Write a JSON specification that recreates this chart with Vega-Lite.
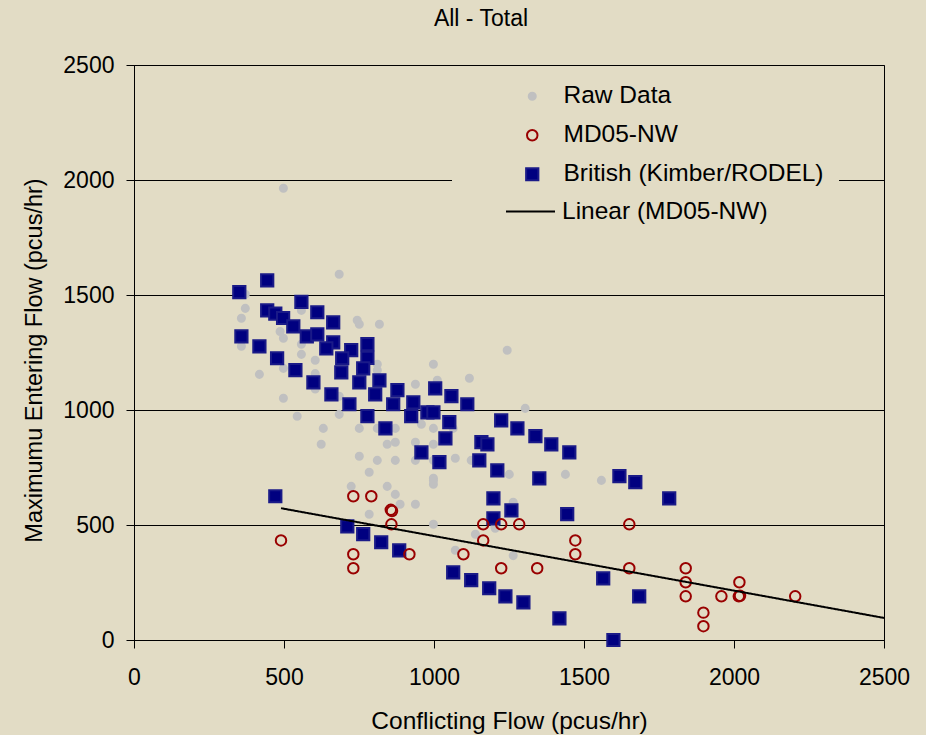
{
  "$schema": "https://vega.github.io/schema/vega-lite/v6.json",
  "width": 750,
  "height": 575,
  "autosize": {"type": "none"},
  "padding": {"left": 134, "top": 65, "right": 42, "bottom": 95},
  "background": "#E2DCC5",
  "title": {"text": "All - Total", "anchor": "middle", "dx": -28, "offset": 23, "fontSize": 23, "fontWeight": "normal", "font": "Liberation Sans", "color": "#000000"},
  "config": {
    "font": "Liberation Sans",
    "view": {"stroke": "#000000", "strokeWidth": 1},
    "axis": {"domainColor": "#000000", "tickColor": "#000000", "labelColor": "#000000", "titleColor": "#000000", "labelFont": "Liberation Sans", "titleFont": "Liberation Sans", "labelFontSize": 23, "titleFontSize": 24.5, "titleFontWeight": "normal", "tickSize": 8, "domainWidth": 1, "tickWidth": 1, "format": "d"}
  },
  "datasets": {
    "pts": [
      {"series": "Raw Data", "x": 498, "y": 1964},
      {"series": "Raw Data", "x": 684, "y": 1590},
      {"series": "Raw Data", "x": 371, "y": 1503},
      {"series": "Raw Data", "x": 371, "y": 1442},
      {"series": "Raw Data", "x": 358, "y": 1399},
      {"series": "Raw Data", "x": 358, "y": 1277},
      {"series": "Raw Data", "x": 487, "y": 1341},
      {"series": "Raw Data", "x": 498, "y": 1312},
      {"series": "Raw Data", "x": 418, "y": 1155},
      {"series": "Raw Data", "x": 498, "y": 1181},
      {"series": "Raw Data", "x": 498, "y": 1051},
      {"series": "Raw Data", "x": 544, "y": 973},
      {"series": "Raw Data", "x": 558, "y": 1286},
      {"series": "Raw Data", "x": 558, "y": 1242},
      {"series": "Raw Data", "x": 604, "y": 1216},
      {"series": "Raw Data", "x": 604, "y": 1158},
      {"series": "Raw Data", "x": 604, "y": 1091},
      {"series": "Raw Data", "x": 558, "y": 1433},
      {"series": "Raw Data", "x": 744, "y": 1390},
      {"series": "Raw Data", "x": 751, "y": 1373},
      {"series": "Raw Data", "x": 818, "y": 1373},
      {"series": "Raw Data", "x": 811, "y": 1199},
      {"series": "Raw Data", "x": 811, "y": 1173},
      {"series": "Raw Data", "x": 998, "y": 1199},
      {"series": "Raw Data", "x": 938, "y": 1112},
      {"series": "Raw Data", "x": 1011, "y": 1129},
      {"series": "Raw Data", "x": 684, "y": 1060},
      {"series": "Raw Data", "x": 684, "y": 981},
      {"series": "Raw Data", "x": 631, "y": 920},
      {"series": "Raw Data", "x": 624, "y": 851},
      {"series": "Raw Data", "x": 751, "y": 920},
      {"series": "Raw Data", "x": 811, "y": 920},
      {"series": "Raw Data", "x": 871, "y": 920},
      {"series": "Raw Data", "x": 844, "y": 851},
      {"series": "Raw Data", "x": 871, "y": 860},
      {"series": "Raw Data", "x": 958, "y": 938},
      {"series": "Raw Data", "x": 998, "y": 920},
      {"series": "Raw Data", "x": 938, "y": 860},
      {"series": "Raw Data", "x": 998, "y": 851},
      {"series": "Raw Data", "x": 1244, "y": 1260},
      {"series": "Raw Data", "x": 1118, "y": 1138},
      {"series": "Raw Data", "x": 751, "y": 799},
      {"series": "Raw Data", "x": 811, "y": 781},
      {"series": "Raw Data", "x": 871, "y": 781},
      {"series": "Raw Data", "x": 938, "y": 781},
      {"series": "Raw Data", "x": 784, "y": 729},
      {"series": "Raw Data", "x": 1071, "y": 790},
      {"series": "Raw Data", "x": 1124, "y": 781},
      {"series": "Raw Data", "x": 1251, "y": 720},
      {"series": "Raw Data", "x": 998, "y": 703},
      {"series": "Raw Data", "x": 1304, "y": 1007},
      {"series": "Raw Data", "x": 1064, "y": 920},
      {"series": "Raw Data", "x": 998, "y": 781},
      {"series": "Raw Data", "x": 998, "y": 694},
      {"series": "Raw Data", "x": 998, "y": 677},
      {"series": "Raw Data", "x": 1438, "y": 720},
      {"series": "Raw Data", "x": 1558, "y": 694},
      {"series": "Raw Data", "x": 887, "y": 590},
      {"series": "Raw Data", "x": 938, "y": 590},
      {"series": "Raw Data", "x": 998, "y": 503},
      {"series": "Raw Data", "x": 1264, "y": 599},
      {"series": "Raw Data", "x": 1138, "y": 460},
      {"series": "Raw Data", "x": 1071, "y": 390},
      {"series": "Raw Data", "x": 1264, "y": 367},
      {"series": "Raw Data", "x": 1203, "y": 493},
      {"series": "Raw Data", "x": 724, "y": 668},
      {"series": "Raw Data", "x": 844, "y": 668},
      {"series": "Raw Data", "x": 871, "y": 633},
      {"series": "Raw Data", "x": 784, "y": 547},
      {"series": "Raw Data", "x": 1264, "y": 590},
      {"series": "Raw Data", "x": 1204, "y": 486},
      {"series": "British (Kimber/RODEL)", "x": 351, "y": 1512},
      {"series": "British (Kimber/RODEL)", "x": 444, "y": 1564},
      {"series": "British (Kimber/RODEL)", "x": 444, "y": 1433},
      {"series": "British (Kimber/RODEL)", "x": 471, "y": 1419},
      {"series": "British (Kimber/RODEL)", "x": 497, "y": 1400},
      {"series": "British (Kimber/RODEL)", "x": 531, "y": 1364},
      {"series": "British (Kimber/RODEL)", "x": 558, "y": 1470},
      {"series": "British (Kimber/RODEL)", "x": 358, "y": 1320},
      {"series": "British (Kimber/RODEL)", "x": 418, "y": 1277},
      {"series": "British (Kimber/RODEL)", "x": 477, "y": 1225},
      {"series": "British (Kimber/RODEL)", "x": 538, "y": 1173},
      {"series": "British (Kimber/RODEL)", "x": 576, "y": 1320},
      {"series": "British (Kimber/RODEL)", "x": 611, "y": 1329},
      {"series": "British (Kimber/RODEL)", "x": 611, "y": 1425},
      {"series": "British (Kimber/RODEL)", "x": 664, "y": 1381},
      {"series": "British (Kimber/RODEL)", "x": 664, "y": 1294},
      {"series": "British (Kimber/RODEL)", "x": 641, "y": 1268},
      {"series": "British (Kimber/RODEL)", "x": 724, "y": 1260},
      {"series": "British (Kimber/RODEL)", "x": 778, "y": 1286},
      {"series": "British (Kimber/RODEL)", "x": 778, "y": 1227},
      {"series": "British (Kimber/RODEL)", "x": 694, "y": 1225},
      {"series": "British (Kimber/RODEL)", "x": 691, "y": 1164},
      {"series": "British (Kimber/RODEL)", "x": 764, "y": 1181},
      {"series": "British (Kimber/RODEL)", "x": 598, "y": 1120},
      {"series": "British (Kimber/RODEL)", "x": 751, "y": 1120},
      {"series": "British (Kimber/RODEL)", "x": 658, "y": 1068},
      {"series": "British (Kimber/RODEL)", "x": 718, "y": 1025},
      {"series": "British (Kimber/RODEL)", "x": 818, "y": 1129},
      {"series": "British (Kimber/RODEL)", "x": 804, "y": 1068},
      {"series": "British (Kimber/RODEL)", "x": 778, "y": 973},
      {"series": "British (Kimber/RODEL)", "x": 838, "y": 920},
      {"series": "British (Kimber/RODEL)", "x": 878, "y": 1086},
      {"series": "British (Kimber/RODEL)", "x": 864, "y": 1025},
      {"series": "British (Kimber/RODEL)", "x": 931, "y": 1033},
      {"series": "British (Kimber/RODEL)", "x": 924, "y": 973},
      {"series": "British (Kimber/RODEL)", "x": 1004, "y": 1094},
      {"series": "British (Kimber/RODEL)", "x": 978, "y": 990},
      {"series": "British (Kimber/RODEL)", "x": 998, "y": 990},
      {"series": "British (Kimber/RODEL)", "x": 1051, "y": 947},
      {"series": "British (Kimber/RODEL)", "x": 1038, "y": 877},
      {"series": "British (Kimber/RODEL)", "x": 958, "y": 816},
      {"series": "British (Kimber/RODEL)", "x": 1058, "y": 1060},
      {"series": "British (Kimber/RODEL)", "x": 1111, "y": 1025},
      {"series": "British (Kimber/RODEL)", "x": 1224, "y": 955},
      {"series": "British (Kimber/RODEL)", "x": 1278, "y": 920},
      {"series": "British (Kimber/RODEL)", "x": 1158, "y": 860},
      {"series": "British (Kimber/RODEL)", "x": 1178, "y": 851},
      {"series": "British (Kimber/RODEL)", "x": 1151, "y": 781},
      {"series": "British (Kimber/RODEL)", "x": 1018, "y": 773},
      {"series": "British (Kimber/RODEL)", "x": 1211, "y": 738},
      {"series": "British (Kimber/RODEL)", "x": 1338, "y": 886},
      {"series": "British (Kimber/RODEL)", "x": 1391, "y": 851},
      {"series": "British (Kimber/RODEL)", "x": 1451, "y": 816},
      {"series": "British (Kimber/RODEL)", "x": 1351, "y": 703},
      {"series": "British (Kimber/RODEL)", "x": 1618, "y": 712},
      {"series": "British (Kimber/RODEL)", "x": 1671, "y": 686},
      {"series": "British (Kimber/RODEL)", "x": 1198, "y": 616},
      {"series": "British (Kimber/RODEL)", "x": 1258, "y": 564},
      {"series": "British (Kimber/RODEL)", "x": 1198, "y": 529},
      {"series": "British (Kimber/RODEL)", "x": 1444, "y": 547},
      {"series": "British (Kimber/RODEL)", "x": 1784, "y": 616},
      {"series": "British (Kimber/RODEL)", "x": 471, "y": 625},
      {"series": "British (Kimber/RODEL)", "x": 711, "y": 494},
      {"series": "British (Kimber/RODEL)", "x": 764, "y": 460},
      {"series": "British (Kimber/RODEL)", "x": 824, "y": 425},
      {"series": "British (Kimber/RODEL)", "x": 884, "y": 390},
      {"series": "British (Kimber/RODEL)", "x": 1064, "y": 294},
      {"series": "British (Kimber/RODEL)", "x": 1124, "y": 260},
      {"series": "British (Kimber/RODEL)", "x": 1184, "y": 225},
      {"series": "British (Kimber/RODEL)", "x": 1238, "y": 190},
      {"series": "British (Kimber/RODEL)", "x": 1298, "y": 164},
      {"series": "British (Kimber/RODEL)", "x": 1418, "y": 94},
      {"series": "British (Kimber/RODEL)", "x": 1598, "y": 0},
      {"series": "British (Kimber/RODEL)", "x": 1564, "y": 268},
      {"series": "British (Kimber/RODEL)", "x": 1684, "y": 190},
      {"series": "MD05-NW", "x": 490, "y": 433},
      {"series": "MD05-NW", "x": 731, "y": 625},
      {"series": "MD05-NW", "x": 791, "y": 625},
      {"series": "MD05-NW", "x": 856, "y": 566},
      {"series": "MD05-NW", "x": 860, "y": 561},
      {"series": "MD05-NW", "x": 858, "y": 503},
      {"series": "MD05-NW", "x": 731, "y": 373},
      {"series": "MD05-NW", "x": 731, "y": 312},
      {"series": "MD05-NW", "x": 918, "y": 373},
      {"series": "MD05-NW", "x": 1164, "y": 503},
      {"series": "MD05-NW", "x": 1224, "y": 503},
      {"series": "MD05-NW", "x": 1284, "y": 503},
      {"series": "MD05-NW", "x": 1651, "y": 503},
      {"series": "MD05-NW", "x": 1164, "y": 433},
      {"series": "MD05-NW", "x": 1471, "y": 433},
      {"series": "MD05-NW", "x": 1471, "y": 373},
      {"series": "MD05-NW", "x": 1098, "y": 373},
      {"series": "MD05-NW", "x": 1224, "y": 312},
      {"series": "MD05-NW", "x": 1344, "y": 312},
      {"series": "MD05-NW", "x": 1651, "y": 312},
      {"series": "MD05-NW", "x": 1839, "y": 312},
      {"series": "MD05-NW", "x": 1839, "y": 251},
      {"series": "MD05-NW", "x": 1839, "y": 190},
      {"series": "MD05-NW", "x": 1898, "y": 119},
      {"series": "MD05-NW", "x": 1898, "y": 60},
      {"series": "MD05-NW", "x": 1958, "y": 190},
      {"series": "MD05-NW", "x": 2018, "y": 251},
      {"series": "MD05-NW", "x": 2016, "y": 190},
      {"series": "MD05-NW", "x": 2020, "y": 192},
      {"series": "MD05-NW", "x": 2204, "y": 190}
    ],
    "trend": [
      {"name": "Linear (MD05-NW)", "x": 490, "y": 573},
      {"name": "Linear (MD05-NW)", "x": 2500, "y": 96}
    ]
  },
  "layer": [
    {
      "data": {"name": "pts"},
      "mark": {"type": "point", "filled": true, "opacity": 1, "strokeWidth": 2},
      "encoding": {
        "x": {"field": "x", "type": "quantitative", "scale": {"domain": [0, 2500], "nice": false, "zero": false}, "axis": {"values": [0, 500, 1000, 1500, 2000, 2500], "grid": false, "title": "Conflicting Flow (pcus/hr)", "labelPadding": 18, "titlePadding": 20, "labelFlush": false}},
        "y": {"field": "y", "type": "quantitative", "scale": {"domain": [0, 2500], "nice": false, "zero": false}, "axis": {"values": [0, 500, 1000, 1500, 2000, 2500], "grid": true, "gridColor": "#000000", "gridWidth": 1, "gridOpacity": 1, "title": "Maximumu Entering Flow (pcus/hr)", "titleFontSize": 23.5, "titleY": 295, "labelPadding": 12, "titlePadding": 16, "labelFlush": false}},
        "strokeWidth": {"value": 2},
        "shape": {"field": "series", "type": "nominal", "scale": {"domain": ["Raw Data", "MD05-NW", "British (Kimber/RODEL)"], "range": ["circle", "circle", "square"]}, "legend": {"orient": "none", "legendX": 318, "legendY": 4, "padding": 15, "fillColor": "#E2DCC5", "title": null, "labelFontSize": 24.5, "labelColor": "#000000", "labelLimit": 400, "symbolOffset": 53, "labelOffset": 19, "rowPadding": 14, "symbolStrokeWidth": 2}},
        "fill": {"field": "series", "type": "nominal", "scale": {"domain": ["Raw Data", "MD05-NW", "British (Kimber/RODEL)"], "range": ["#C0C0C0", "transparent", "#000080"]}, "legend": {"orient": "none", "legendX": 318, "legendY": 4, "padding": 15, "fillColor": "#E2DCC5", "title": null, "labelFontSize": 24.5, "labelColor": "#000000", "labelLimit": 400, "symbolOffset": 53, "labelOffset": 19, "rowPadding": 14, "symbolStrokeWidth": 2}},
        "stroke": {"field": "series", "type": "nominal", "scale": {"domain": ["Raw Data", "MD05-NW", "British (Kimber/RODEL)"], "range": ["#C0C0C0", "#990000", "#1A1A88"]}, "legend": {"orient": "none", "legendX": 318, "legendY": 4, "padding": 15, "fillColor": "#E2DCC5", "title": null, "labelFontSize": 24.5, "labelColor": "#000000", "labelLimit": 400, "symbolOffset": 53, "labelOffset": 19, "rowPadding": 14, "symbolStrokeWidth": 2}},
        "size": {"field": "series", "type": "nominal", "scale": {"type": "ordinal", "domain": ["Raw Data", "MD05-NW", "British (Kimber/RODEL)"], "range": [50, 110, 150]}, "legend": {"orient": "none", "legendX": 318, "legendY": 4, "padding": 15, "fillColor": "#E2DCC5", "title": null, "labelFontSize": 24.5, "labelColor": "#000000", "labelLimit": 400, "symbolOffset": 53, "labelOffset": 19, "rowPadding": 14, "symbolStrokeWidth": 2}}
      }
    },
    {
      "data": {"name": "trend"},
      "mark": {"type": "line", "color": "#000000", "strokeWidth": 2},
      "encoding": {
        "x": {"field": "x", "type": "quantitative"},
        "y": {"field": "y", "type": "quantitative"},
        "strokeDash": {"field": "name", "type": "nominal", "scale": {"range": [[1, 0]]}, "legend": {"orient": "none", "legendX": 371, "legendY": 121, "padding": 0, "title": null, "symbolType": "stroke", "symbolSize": 2401, "symbolStrokeWidth": 2, "symbolStrokeColor": "#000000", "labelFontSize": 24.5, "labelColor": "#000000", "labelOffset": 6, "labelLimit": 400}}
      }
    }
  ]
}
